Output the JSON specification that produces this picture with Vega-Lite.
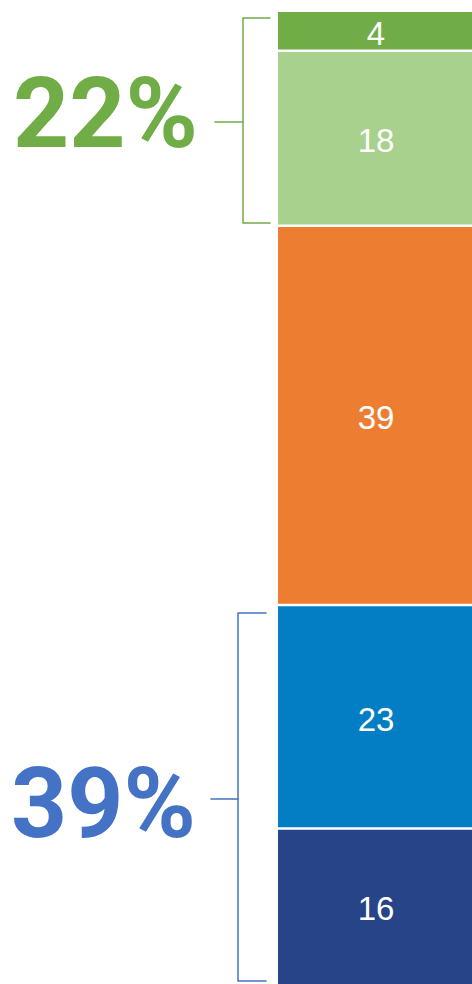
{
  "$schema": "https://vega.github.io/schema/vega-lite/v6.json",
  "width": 472,
  "height": 984,
  "autosize": {"type": "none"},
  "padding": 0,
  "background": "#ffffff",
  "config": {"view": {"stroke": null}},
  "datasets": {
    "segments": [
      {"seg": "s1", "value": 16},
      {"seg": "s2", "value": 23},
      {"seg": "s3", "value": 39},
      {"seg": "s4", "value": 18},
      {"seg": "s5", "value": 4}
    ],
    "groups": [
      {"label": "39%", "lo": 0, "hi": 39},
      {"label": "22%", "lo": 78, "hi": 100}
    ]
  },
  "layer": [
    {
      "data": {"name": "segments"},
      "transform": [
        {"stack": "value", "groupby": [], "sort": [{"field": "seg", "order": "ascending"}], "as": ["y0", "y1"]}
      ],
      "mark": {"type": "bar"},
      "encoding": {
        "x": {"datum": 278, "type": "quantitative", "scale": {"domain": [0, 472], "nice": false, "zero": false}, "axis": null},
        "x2": {"datum": 472},
        "y": {"field": "y0", "type": "quantitative", "stack": null, "scale": {"domain": [0, 101.231], "nice": false, "zero": false}, "axis": null},
        "y2": {"field": "y1"},
        "color": {"field": "seg", "type": "nominal", "scale": {"domain": ["s1", "s2", "s3", "s4", "s5"], "range": ["#264487", "#037EC4", "#ED7D31", "#A9D18E", "#70AD47"]}, "legend": null}
      }
    },
    {
      "data": {"name": "segments"},
      "transform": [
        {"stack": "value", "groupby": [], "sort": [{"field": "seg", "order": "ascending"}], "as": ["y0", "y1"]},
        {"filter": "datum.y1 < 100"}
      ],
      "mark": {"type": "rule", "color": "#ffffff", "strokeWidth": 2.5},
      "encoding": {
        "x": {"datum": 278, "type": "quantitative", "scale": {"domain": [0, 472], "nice": false, "zero": false}, "axis": null},
        "x2": {"datum": 472},
        "y": {"field": "y1", "type": "quantitative", "stack": null, "scale": {"domain": [0, 101.231], "nice": false, "zero": false}, "axis": null}
      }
    },
    {
      "data": {"name": "segments"},
      "transform": [
        {"stack": "value", "groupby": [], "sort": [{"field": "seg", "order": "ascending"}], "as": ["y0", "y1"]},
        {"fold": ["y0", "y1"], "as": ["end", "v"]},
        {"aggregate": [{"op": "mean", "field": "v", "as": "mid"}], "groupby": ["seg", "value"]}
      ],
      "mark": {"type": "text", "color": "#ffffff", "font": "Liberation Sans", "fontSize": 33, "align": "center", "baseline": "alphabetic", "dy": 14},
      "encoding": {
        "x": {"datum": 376, "type": "quantitative", "scale": {"domain": [0, 472], "nice": false, "zero": false}, "axis": null},
        "y": {"field": "mid", "type": "quantitative", "stack": null, "scale": {"domain": [0, 101.231], "nice": false, "zero": false}, "axis": null},
        "text": {"field": "value", "type": "quantitative"}
      }
    },
    {
      "data": {"name": "groups"},
      "transform": [{"filter": "datum.label == '22%'"}],
      "mark": {"type": "rule", "color": "#70AD47", "strokeWidth": 1.5, "yOffset": 6, "y2Offset": -2.8},
      "encoding": {
        "x": {"datum": 243, "type": "quantitative", "scale": {"domain": [0, 472], "nice": false, "zero": false}, "axis": null},
        "y": {"field": "hi", "type": "quantitative", "stack": null, "scale": {"domain": [0, 101.231], "nice": false, "zero": false}, "axis": null},
        "y2": {"field": "lo"}
      }
    },
    {
      "data": {"name": "groups"},
      "transform": [{"filter": "datum.label == '22%'"}],
      "mark": {"type": "rule", "color": "#70AD47", "strokeWidth": 1.5, "strokeCap": "round", "yOffset": 6},
      "encoding": {
        "x": {"datum": 243, "type": "quantitative", "scale": {"domain": [0, 472], "nice": false, "zero": false}, "axis": null},
        "x2": {"datum": 270},
        "y": {"field": "hi", "type": "quantitative", "stack": null, "scale": {"domain": [0, 101.231], "nice": false, "zero": false}, "axis": null}
      }
    },
    {
      "data": {"name": "groups"},
      "transform": [{"filter": "datum.label == '22%'"}],
      "mark": {"type": "rule", "color": "#70AD47", "strokeWidth": 1.5, "strokeCap": "round", "yOffset": -2.8},
      "encoding": {
        "x": {"datum": 243, "type": "quantitative", "scale": {"domain": [0, 472], "nice": false, "zero": false}, "axis": null},
        "x2": {"datum": 270},
        "y": {"field": "lo", "type": "quantitative", "stack": null, "scale": {"domain": [0, 101.231], "nice": false, "zero": false}, "axis": null}
      }
    },
    {
      "data": {"name": "groups"},
      "transform": [
        {"filter": "datum.label == '22%'"},
        {"fold": ["lo", "hi"], "as": ["end", "v"]},
        {"aggregate": [{"op": "mean", "field": "v", "as": "mid"}], "groupby": ["label"]}
      ],
      "mark": {"type": "rule", "color": "#70AD47", "strokeWidth": 1.5, "strokeCap": "round", "yOffset": 3},
      "encoding": {
        "x": {"datum": 215, "type": "quantitative", "scale": {"domain": [0, 472], "nice": false, "zero": false}, "axis": null},
        "x2": {"datum": 243},
        "y": {"field": "mid", "type": "quantitative", "stack": null, "scale": {"domain": [0, 101.231], "nice": false, "zero": false}, "axis": null}
      }
    },
    {
      "data": {"name": "groups"},
      "transform": [
        {"filter": "datum.label == '22%'"},
        {"fold": ["lo", "hi"], "as": ["end", "v"]},
        {"aggregate": [{"op": "mean", "field": "v", "as": "mid"}], "groupby": ["label"]}
      ],
      "mark": {"type": "text", "color": "#70AD47", "font": "Roboto", "fontWeight": "bold", "fontSize": 98, "align": "center", "baseline": "alphabetic", "dy": 28},
      "encoding": {
        "x": {"datum": 105.5, "type": "quantitative", "scale": {"domain": [0, 472], "nice": false, "zero": false}, "axis": null},
        "y": {"field": "mid", "type": "quantitative", "stack": null, "scale": {"domain": [0, 101.231], "nice": false, "zero": false}, "axis": null},
        "text": {"field": "label", "type": "nominal"}
      }
    },
    {
      "data": {"name": "groups"},
      "transform": [{"filter": "datum.label == '39%'"}],
      "mark": {"type": "rule", "color": "#4472C4", "strokeWidth": 1.5, "yOffset": 8, "y2Offset": -3},
      "encoding": {
        "x": {"datum": 238, "type": "quantitative", "scale": {"domain": [0, 472], "nice": false, "zero": false}, "axis": null},
        "y": {"field": "hi", "type": "quantitative", "stack": null, "scale": {"domain": [0, 101.231], "nice": false, "zero": false}, "axis": null},
        "y2": {"field": "lo"}
      }
    },
    {
      "data": {"name": "groups"},
      "transform": [{"filter": "datum.label == '39%'"}],
      "mark": {"type": "rule", "color": "#4472C4", "strokeWidth": 1.5, "strokeCap": "round", "yOffset": 8},
      "encoding": {
        "x": {"datum": 238, "type": "quantitative", "scale": {"domain": [0, 472], "nice": false, "zero": false}, "axis": null},
        "x2": {"datum": 266},
        "y": {"field": "hi", "type": "quantitative", "stack": null, "scale": {"domain": [0, 101.231], "nice": false, "zero": false}, "axis": null}
      }
    },
    {
      "data": {"name": "groups"},
      "transform": [{"filter": "datum.label == '39%'"}],
      "mark": {"type": "rule", "color": "#4472C4", "strokeWidth": 1.5, "strokeCap": "round", "yOffset": -3},
      "encoding": {
        "x": {"datum": 238, "type": "quantitative", "scale": {"domain": [0, 472], "nice": false, "zero": false}, "axis": null},
        "x2": {"datum": 266},
        "y": {"field": "lo", "type": "quantitative", "stack": null, "scale": {"domain": [0, 101.231], "nice": false, "zero": false}, "axis": null}
      }
    },
    {
      "data": {"name": "groups"},
      "transform": [
        {"filter": "datum.label == '39%'"},
        {"fold": ["lo", "hi"], "as": ["end", "v"]},
        {"aggregate": [{"op": "mean", "field": "v", "as": "mid"}], "groupby": ["label"]}
      ],
      "mark": {"type": "rule", "color": "#4472C4", "strokeWidth": 1.5, "strokeCap": "round", "yOffset": 4.5},
      "encoding": {
        "x": {"datum": 211, "type": "quantitative", "scale": {"domain": [0, 472], "nice": false, "zero": false}, "axis": null},
        "x2": {"datum": 238},
        "y": {"field": "mid", "type": "quantitative", "stack": null, "scale": {"domain": [0, 101.231], "nice": false, "zero": false}, "axis": null}
      }
    },
    {
      "data": {"name": "groups"},
      "transform": [
        {"filter": "datum.label == '39%'"},
        {"fold": ["lo", "hi"], "as": ["end", "v"]},
        {"aggregate": [{"op": "mean", "field": "v", "as": "mid"}], "groupby": ["label"]}
      ],
      "mark": {"type": "text", "color": "#4472C4", "font": "Roboto", "fontWeight": "bold", "fontSize": 98, "align": "center", "baseline": "alphabetic", "dy": 42.5},
      "encoding": {
        "x": {"datum": 103.5, "type": "quantitative", "scale": {"domain": [0, 472], "nice": false, "zero": false}, "axis": null},
        "y": {"field": "mid", "type": "quantitative", "stack": null, "scale": {"domain": [0, 101.231], "nice": false, "zero": false}, "axis": null},
        "text": {"field": "label", "type": "nominal"}
      }
    }
  ]
}
